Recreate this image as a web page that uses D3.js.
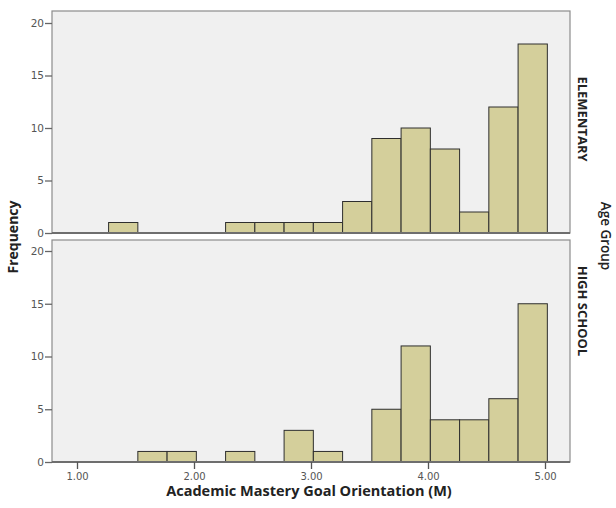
<!DOCTYPE html>
<html>
<head>
<meta charset="utf-8">
<script src="https://cdn.jsdelivr.net/npm/d3@7"></script>
<style>
  body { margin: 0; background: #fff; }
  svg { display: block; }
</style>
</head>
<body>
<svg id="chart" width="616" height="508"></svg>
<script>
// lower edge of each bin (width 0.25)
var binStarts = [1.27, 1.52, 1.77, 2.02, 2.27, 2.52, 2.77, 3.02, 3.27, 3.52, 3.77, 4.02, 4.27, 4.52, 4.77];
var binWidth = 0.25;
var groups = ['ELEMENTARY', 'HIGH SCHOOL'];
var elementaryCounts = [1, 0, 0, 0, 1, 1, 1, 1, 3, 9, 10, 8, 2, 12, 18];
var highSchoolCounts = [0, 1, 1, 0, 1, 0, 3, 1, 0, 5, 11, 4, 4, 6, 15];
var xTicks = [1, 2, 3, 4, 5];
var yTicks = [0, 5, 10, 15, 20];

var svg = d3.select('#chart');

var left = 52, right = 570;
var x = d3.scaleLinear().domain([1, 5]).range([77, 545]);

var panels = [
    { name: groups[0], counts: elementaryCounts, y0: 233, y20: 23, top: 11, labelY: 119 },
    { name: groups[1], counts: highSchoolCounts, y0: 462, y20: 251, top: 240, labelY: 311 }
];

panels.forEach(function (p, pi) {
    var y = d3.scaleLinear().domain([0, 20]).range([p.y0, p.y20]);
    var g = svg.append('g').attr('class', 'panel');

    g.append('rect')
        .attr('x', left)
        .attr('y', p.top)
        .attr('width', right - left)
        .attr('height', p.y0 - p.top)
        .style('fill', '#f0f0f0')
        .style('stroke', '#8c8c8c')
        .style('stroke-width', 1.2);

    var bins = binStarts.map(function (b, i) {
        return { x0: b, x1: b + binWidth, n: p.counts[i] };
    }).filter(function (d) { return d.n > 0; });

    g.selectAll('.bar')
        .data(bins)
        .enter().append('rect')
        .attr('class', 'bar')
        .attr('x', function (d) { return x(d.x0); })
        .attr('y', function (d) { return y(d.n); })
        .attr('width', function (d) { return x(d.x1) - x(d.x0); })
        .attr('height', function (d) { return y(0) - y(d.n); })
        .style('fill', '#d4cf9b')
        .style('stroke', '#2e2e2e')
        .style('stroke-width', 1);

    // baseline
    g.append('line')
        .attr('x1', left).attr('x2', right)
        .attr('y1', p.y0).attr('y2', p.y0)
        .style('stroke', '#6e6e6e')
        .style('stroke-width', 2);

    var yAxis = d3.axisLeft(y).tickValues(yTicks).tickSize(7).tickPadding(1);
    var ya = g.append('g')
        .attr('transform', 'translate(' + left + ',0)')
        .call(yAxis);
    ya.select('.domain').remove();
    ya.selectAll('line').style('stroke', '#666').style('stroke-width', 1.3);
    ya.selectAll('text')
        .style('font-family', 'DejaVu Sans, sans-serif')
        .style('font-size', '10.5px')
        .style('fill', '#555');

    if (pi == 1) {
        var xAxis = d3.axisBottom(x).tickValues(xTicks).tickSize(7).tickPadding(4)
            .tickFormat(d3.format('.2f'));
        var xa = g.append('g')
            .attr('transform', 'translate(0,' + p.y0 + ')')
            .call(xAxis);
        xa.select('.domain').remove();
        xa.selectAll('line').style('stroke', '#555').style('stroke-width', 1.3);
        xa.selectAll('text')
            .style('font-family', 'DejaVu Sans, sans-serif')
            .style('font-size', '10px')
            .style('fill', '#555');
    }

    svg.append('text')
        .attr('transform', 'translate(578,' + p.labelY + ') rotate(90)')
        .attr('text-anchor', 'middle')
        .style('font-family', 'Open Sans, sans-serif')
        .style('font-weight', 'bold')
        .style('font-size', '13px')
        .style('fill', '#222')
        .text(p.name);
});

svg.append('text')
    .attr('x', 309)
    .attr('y', 496)
    .attr('text-anchor', 'middle')
    .style('font-family', 'Open Sans, sans-serif')
    .style('font-weight', 'bold')
    .style('font-size', '14.5px')
    .style('fill', '#222')
    .text('Academic Mastery Goal Orientation (M)');

svg.append('text')
    .attr('transform', 'translate(18,237) rotate(-90)')
    .attr('text-anchor', 'middle')
    .style('font-family', 'Open Sans, sans-serif')
    .style('font-weight', 'bold')
    .style('font-size', '14px')
    .style('fill', '#222')
    .text('Frequency');

svg.append('text')
    .attr('transform', 'translate(601,236) rotate(90)')
    .attr('text-anchor', 'middle')
    .style('font-family', 'Open Sans, sans-serif')
    .style('font-weight', '600')
    .style('font-size', '13.5px')
    .style('fill', '#222')
    .text('Age Group');
</script>
</body>
</html>
